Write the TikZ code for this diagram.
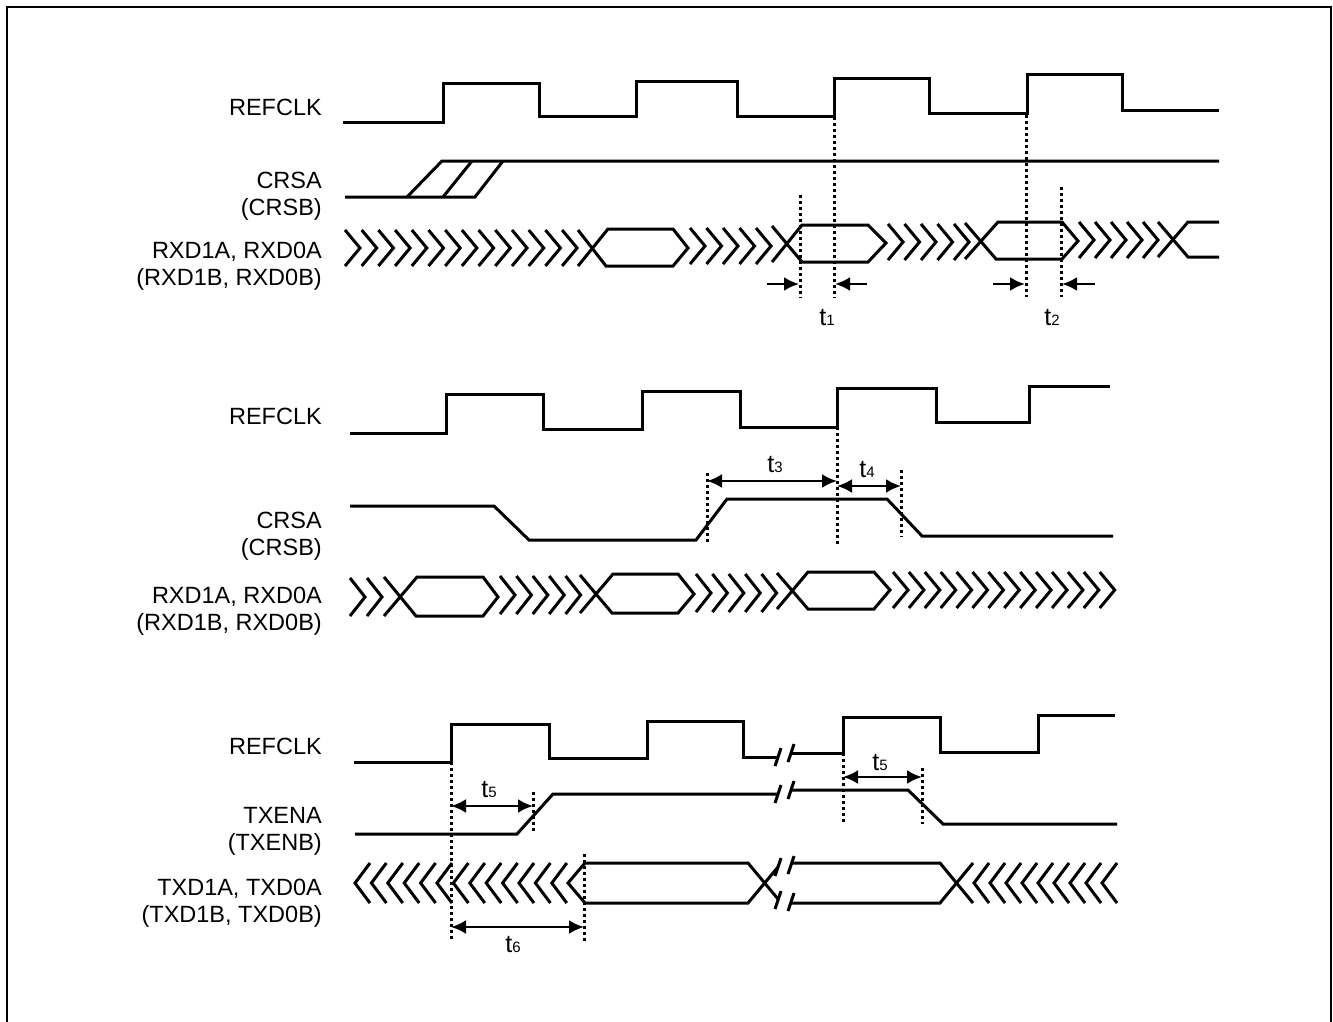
\documentclass[tikz,border=0pt]{standalone}
\usepackage{fontspec}
\setmainfont{Liberation Sans}
\usetikzlibrary{arrows.meta}

\begin{document}
\begin{tikzpicture}[x=1pt, y=-1pt]
    \tikzstyle{wave} = [line width=3pt, line join=miter]
    \tikzstyle{guide} = [line width=3pt, dash pattern=on 3pt off 3pt]
    \tikzstyle{sig} = [font=\fontsize{23.5}{27}\selectfont, align=right, anchor=east, inner sep=0pt]
    \tikzstyle{tlbl} = [font=\fontsize{25}{25}\selectfont, inner sep=0pt]
    \tikzstyle{dim} = [line width=2.6pt, {Latex[length=15pt,width=14pt]}-{Latex[length=15pt,width=14pt]}]
    \tikzstyle{push} = [line width=2.6pt, -{Latex[length=15pt,width=14pt]}]
    \newcommand{\tsub}[1]{t{\fontsize{15}{15}\selectfont #1}}

    \useasboundingbox (0,0) rectangle (1333,1022);
    % Frame (bottom edge is cut off)
    \draw[line width=2pt] (7,1022) -- (7,7) -- (1331,7) -- (1331,1022);

    % ---------------- Receive, top ----------------
    \node[sig] (clkA) at (322,107) {REFCLK};
    \node[sig] (crsA) at (322,196) {CRSA\\(CRSB)};
    \node[sig] (rxdA) at (322,266) {RXD1A, RXD0A\\(RXD1B, RXD0B)};

    \draw[wave] (343,123) -- (443,123) -- (443,84) -- (539,84) -- (539,117) -- (636,117)
        -- (636,82) -- (737,82) -- (737,117) -- (834,117) -- (834,79) -- (929,79)
        -- (929,114) -- (1027,114) -- (1027,75) -- (1122,75) -- (1122,111) -- (1219,111);

    \draw[wave] (345,197) -- (475,197) -- (503,161);
    \draw[wave] (407,197) -- (442,161) -- (1219,161);
    \draw[wave] (443,197) -- (472,161);

    % don't care runs and valid windows
    \foreach \i in {0,...,13} {
        \draw[wave] ({345+16.7*\i},230) -- ++(15,18) -- ++(-15,18);
    }
    \draw[wave] (578,230) -- (606,266) -- (673,266) -- (688,248) -- (673,229) -- (608,229) -- (578,266);
    \foreach \i in {0,...,4} {
        \draw[wave] ({690+16.5*\i},228) -- ++(15,18) -- ++(-15,18);
    }
    \draw[wave] (772,226) -- (802,262) -- (868,262) -- (886,243) -- (868,225) -- (802,225) -- (772,262);
    \foreach \i in {0,...,4} {
        \draw[wave] ({888+16.5*\i},224) -- ++(15,18) -- ++(-15,18);
    }
    \draw[wave] (965,223) -- (996,259) -- (1062,259) -- (1078,241) -- (1062,222) -- (998,222) -- (965,259);
    \foreach \i in {0,...,4} {
        \draw[wave] ({1079+16*\i},222) -- ++(15,18) -- ++(-15,18);
    }
    \draw[wave] (1158,222) -- (1188,257) -- (1219,257);
    \draw[wave] (1158,257) -- (1188,222) -- (1219,222);

    \foreach \x/\ya/\yb in {800/195/298, 834/117/298, 1026/115/297, 1061/187/297} {
        \draw[guide] (\x,\ya) -- (\x,\yb);
    }
    \coordinate (a1s) at (767,284);
    \coordinate (a1e) at (799,284);
    \coordinate (a2s) at (867,284);
    \coordinate (a2e) at (835,284);
    \coordinate (a3s) at (993,284);
    \coordinate (a3e) at (1025,284);
    \coordinate (a4s) at (1095,284);
    \coordinate (a4e) at (1062,284);
    \draw[push] (a1s) -- (a1e);
    \draw[push] (a2s) -- (a2e);
    \draw[push] (a3s) -- (a3e);
    \draw[push] (a4s) -- (a4e);
    \node[tlbl] (t1) at (827,318) {\tsub{1}};
    \node[tlbl] (t2) at (1052,318) {\tsub{2}};

    % ---------------- Receive, middle ----------------
    \node[sig] (clkB) at (322,416) {REFCLK};
    \node[sig] (crsB) at (322,536) {CRSA\\(CRSB)};
    \node[sig] (rxdB) at (322,611) {RXD1A, RXD0A\\(RXD1B, RXD0B)};

    \draw[wave] (350,433) -- (446,433) -- (446,394) -- (543,394) -- (543,429) -- (642,429)
        -- (642,391) -- (740,391) -- (740,427) -- (837,427) -- (837,388) -- (936,388)
        -- (936,422) -- (1029,422) -- (1029,386) -- (1110,386);

    \draw[wave] (350,506) -- (494,506) -- (529,540) -- (696,540) -- (727,499) -- (887,499)
        -- (922,536) -- (1113,536);

    \foreach \i in {0,1} {
        \draw[wave] ({350+17*\i},578) -- ++(15,19) -- ++(-15,19);
    }
    \draw[wave] (384,577) -- (416,616) -- (483,616) -- (498,597) -- (483,577) -- (417,577) -- (384,616);
    \foreach \i in {0,...,4} {
        \draw[wave] ({500+16.4*\i},576) -- ++(15,19) -- ++(-15,19);
    }
    \draw[wave] (580,575) -- (612,613) -- (678,613) -- (694,594) -- (678,574) -- (613,574) -- (580,613);
    \foreach \i in {0,...,4} {
        \draw[wave] ({696+16.4*\i},574) -- ++(15,19) -- ++(-15,19);
    }
    \draw[wave] (777,573) -- (808,609) -- (874,609) -- (890,590) -- (874,572) -- (808,572) -- (777,609);
    \foreach \i in {0,...,13} {
        \draw[wave] ({893+15.9*\i},572) -- ++(15,18) -- ++(-15,18);
    }

    \foreach \x/\ya/\yb in {707/473/544, 837/427/544, 901/470/537} {
        \draw[guide] (\x,\ya) -- (\x,\yb);
    }
    \coordinate (t3l) at (707,481);
    \coordinate (t3r) at (837,481);
    \coordinate (t4l) at (837,486);
    \coordinate (t4r) at (901,486);
    \draw[dim] (t3l) -- (t3r);
    \draw[dim] (t4l) -- (t4r);
    \node[tlbl] (t3) at (775,465) {\tsub{3}};
    \node[tlbl] (t4) at (867,470) {\tsub{4}};

    % ---------------- Transmit, bottom ----------------
    \node[sig] (clkC) at (322,746) {REFCLK};
    \node[sig] (txen) at (322,831) {TXENA\\(TXENB)};
    \node[sig] (txd) at (322,903) {TXD1A, TXD0A\\(TXD1B, TXD0B)};

    \draw[wave] (354,762) -- (451,762) -- (451,724) -- (549,724) -- (549,758) -- (647,758)
        -- (647,721) -- (743,721) -- (743,757) -- (778,757);
    \draw[wave] (791,753) -- (843,753) -- (843,717) -- (940,717) -- (940,752) -- (1038,752)
        -- (1038,715) -- (1115,715);

    \draw[wave] (355,834) -- (517,834) -- (553,794) -- (778,794);
    \draw[wave] (791,790) -- (908,790) -- (943,824) -- (1117,824);

    \foreach \i in {0,...,12} {
        \draw[wave] ({370+16.4*\i},863) -- ++(-15,20) -- ++(15,20);
    }
    \draw[wave] (585,863) -- (568,883) -- (585,903);
    \draw[wave] (585,863) -- (748,863) -- (778,899);
    \draw[wave] (585,903) -- (748,903) -- (778,867);
    \draw[wave] (791,863) -- (940,863) -- (973,903);
    \draw[wave] (791,903) -- (940,903) -- (973,863);
    \foreach \i in {0,...,8} {
        \draw[wave] ({989+16*\i},863) -- ++(-15,20) -- ++(15,20);
    }

    % break marks
    \foreach \x/\y in {778/757, 791/753, 778/794, 791/790, 778/867, 791/865, 778/900, 791/902} {
        \draw[wave] (\x-3,\y+9) -- (\x+3,\y-9);
    }

    \foreach \x/\ya/\yb in {451/762/940, 533/792/832, 584/854/941, 843/753/824, 922/768/824} {
        \draw[guide] (\x,\ya) -- (\x,\yb);
    }
    \coordinate (t5l) at (451,806);
    \coordinate (t5r) at (533,806);
    \coordinate (t6l) at (451,927);
    \coordinate (t6r) at (584,927);
    \coordinate (t5L) at (843,777);
    \coordinate (t5R) at (922,777);
    \draw[dim] (t5l) -- (t5r);
    \draw[dim] (t6l) -- (t6r);
    \draw[dim] (t5L) -- (t5R);
    \node[tlbl] (t5a) at (489,790) {\tsub{5}};
    \node[tlbl] (t6) at (513,945) {\tsub{6}};
    \node[tlbl] (t5b) at (880,763) {\tsub{5}};
\end{tikzpicture}
\end{document}
